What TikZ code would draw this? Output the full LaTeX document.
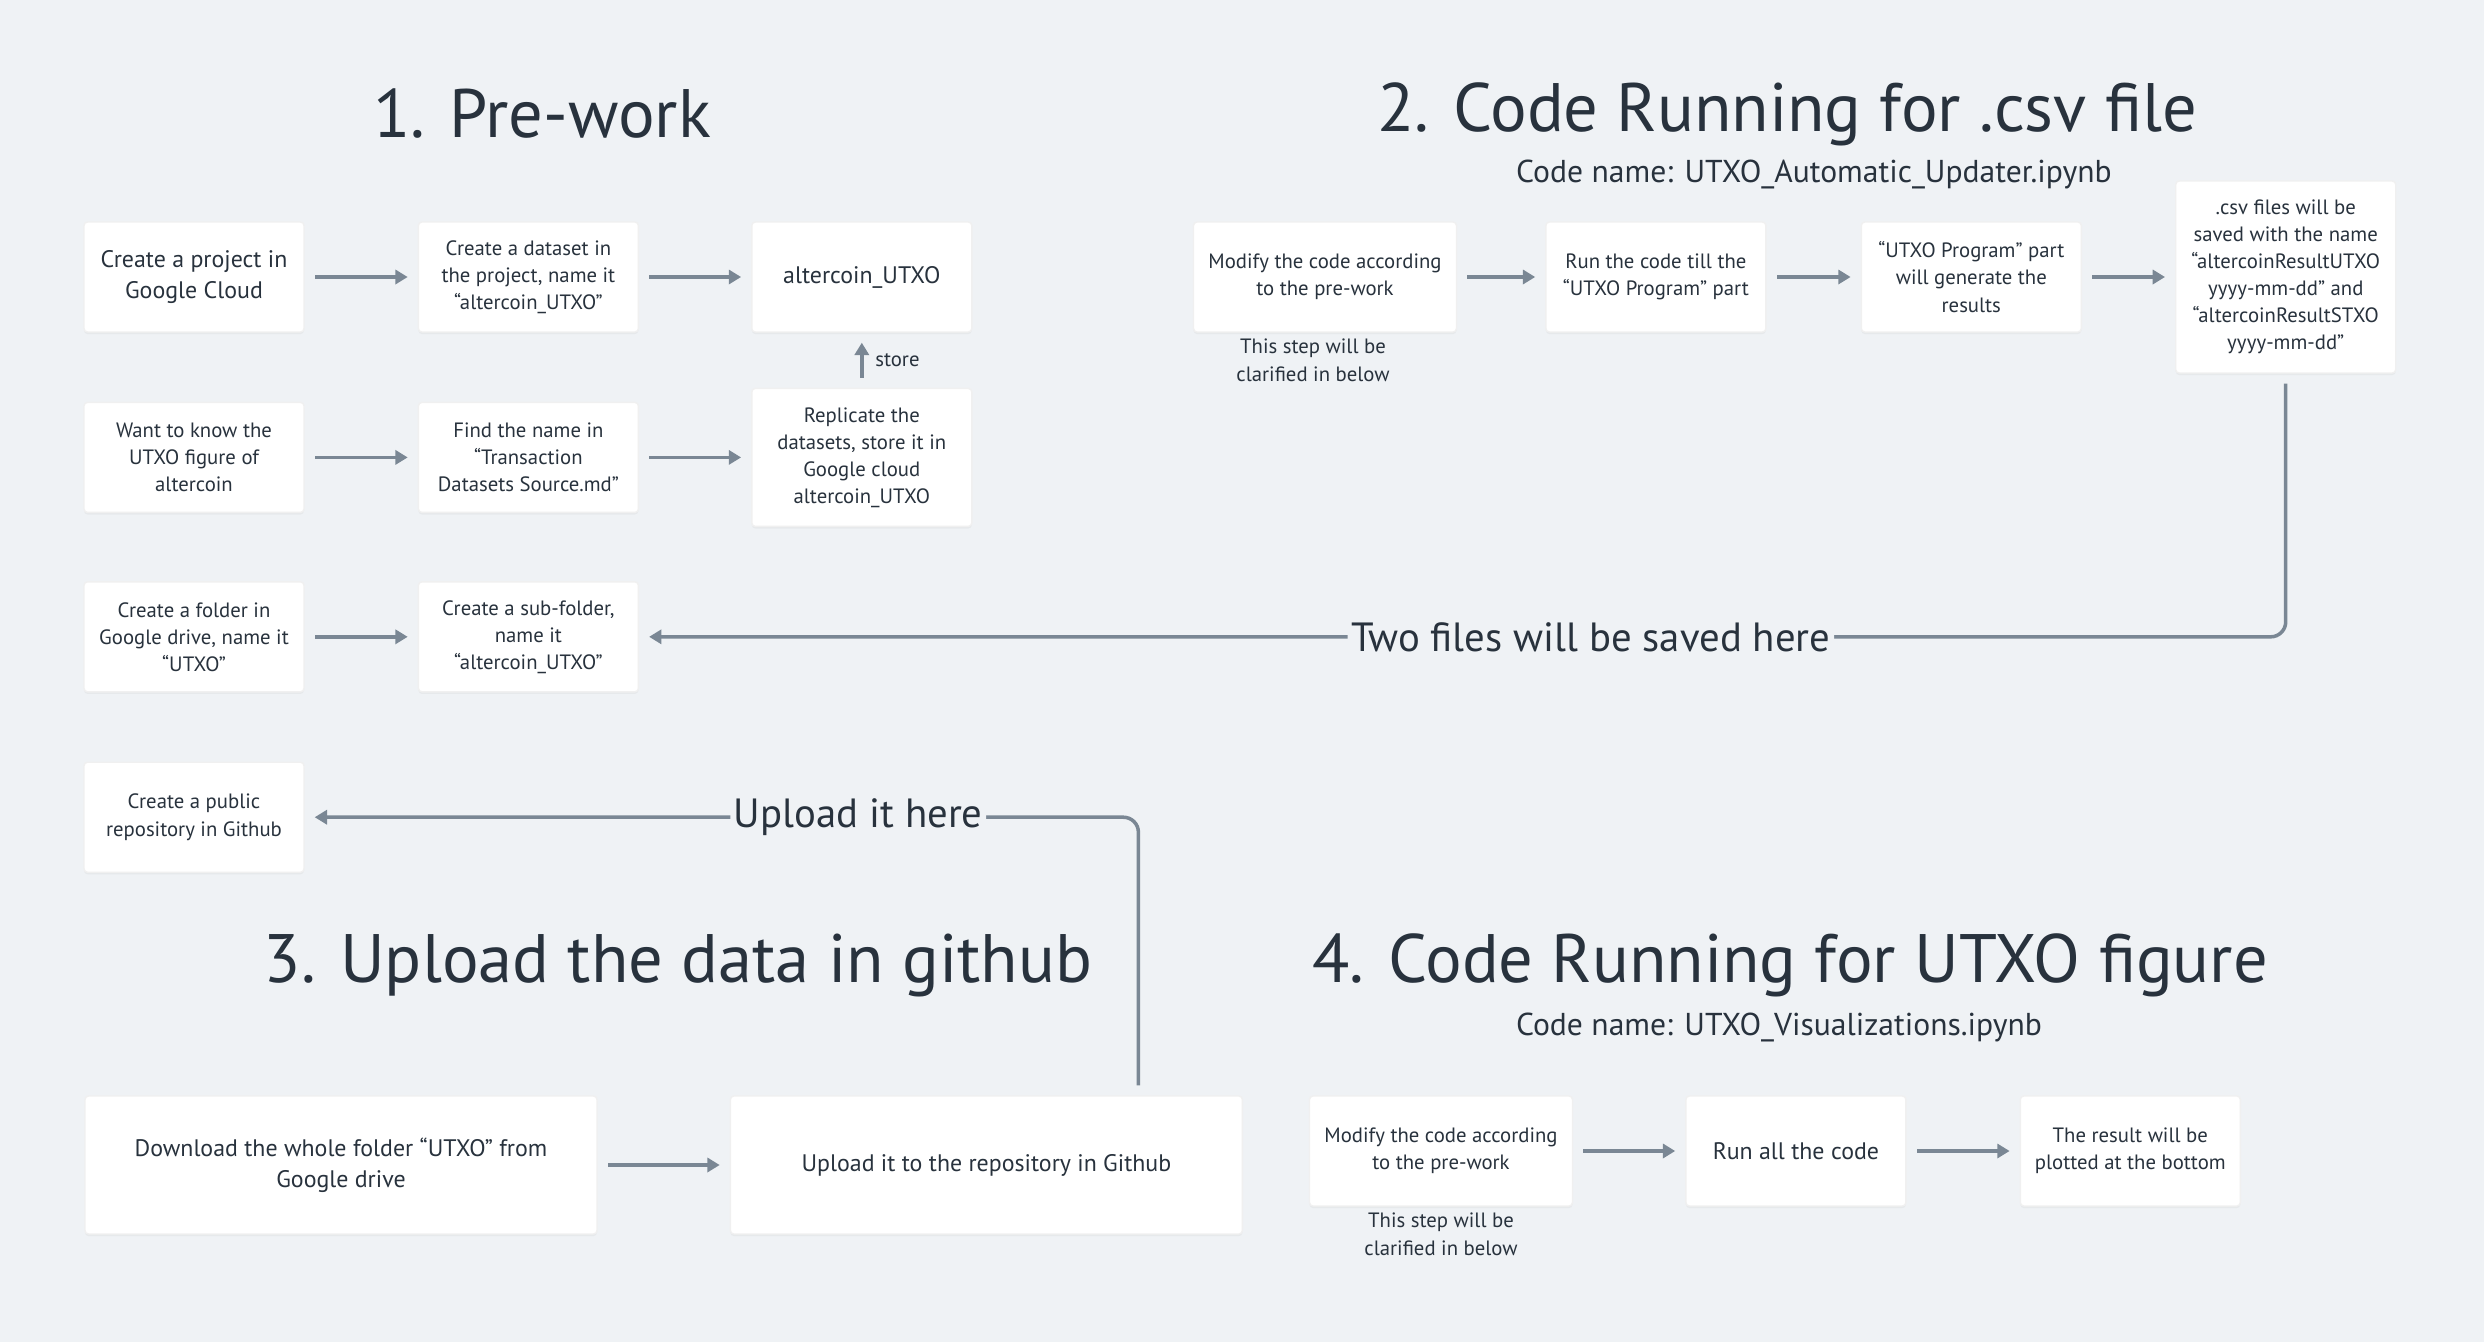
\documentclass[tikz,border=0pt]{standalone}
\usepackage{fontspec}
\setmainfont{PT Sans}
\usetikzlibrary{arrows.meta,positioning,shadows}
\definecolor{canvas}{HTML}{EFF2F5}
\definecolor{ink}{HTML}{28323D}
\definecolor{wire}{HTML}{7A8794}
\tikzstyle{task}=[
	rectangle,
	fill=white,
	draw=black!6,
	rounded corners=1pt,
	minimum width=2.2cm,
	minimum height=1.1cm,
	inner sep=0pt,
	align=center,
	text=ink,
	font=\fontsize{5.9}{7.7}\selectfont,
	drop shadow={shadow xshift=0pt, shadow yshift=-0.6pt, opacity=0.08}
]
\tikzstyle{bigtask}=[
	task,
	font=\fontsize{6.8}{8.8}\selectfont
]
\tikzstyle{note}=[
	align=center,
	text=ink,
	font=\fontsize{5.9}{7.9}\selectfont
]
\tikzstyle{heading}=[
	text=ink,
	font=\fontsize{19.5}{22}\selectfont
]
\tikzstyle{codename}=[
	text=ink,
	font=\fontsize{9}{11}\selectfont
]
\tikzstyle{flow}=[
	->,
	>={Triangle[length=3.5pt,width=4pt]},
	draw=wire,
	line width=1pt,
	shorten >=0.1cm,
	shorten <=0.1cm
]
\tikzstyle{return}=[
	flow,
	rounded corners=0.15cm
]
\tikzstyle{wirelabel}=[
	fill=canvas,
	text=ink,
	inner xsep=1pt,
	font=\fontsize{11.6}{13}\selectfont
]

\begin{document}
\begin{tikzpicture}
\path [use as bounding box, fill=canvas] (0,0) rectangle (24.84,-13.42);

% 1. pre-work
\node [heading] (T1) at (5.42,-1.14) {1. Pre-work};
\node [bigtask] (A1) at (1.94,-2.77) {Create a project in\\Google Cloud};
\node [task] (A2) [right=1.13cm of A1] {Create a dataset in\\the project, name it\\“altercoin\_UTXO”}
	edge [flow, <-] (A1);
\node [bigtask] (A3) [right=1.12cm of A2] {altercoin\_UTXO}
	edge [flow, <-] (A2);
\node [task] (B1) [below=0.69cm of A1] {Want to know the\\UTXO figure of\\altercoin};
\node [task] (B2) [right=1.13cm of B1] {Find the name in\\“Transaction\\Datasets Source.md”}
	edge [flow, <-] (B1);
\node [task, minimum height=1.38cm] (B3) [right=1.12cm of B2] {Replicate the\\datasets, store it in\\Google cloud\\altercoin\_UTXO}
	edge [flow, <-] (B2)
	edge [flow] node [note, right] {store} (A3);
\node [task] (C1) [below=0.68cm of B1] {Create a folder in\\Google drive, name it\\“UTXO”};
\node [task] (C2) [right=1.13cm of C1] {Create a sub-folder,\\name it\\“altercoin\_UTXO”}
	edge [flow, <-] (C1);
\node [task] (D1) [below=0.69cm of C1] {Create a public\\repository in Github};

% 2. code running for .csv file
\node [heading] (T2) at (17.87,-1.14) {2. Code Running for .csv file};
\node [codename] (N2) at (18.14,-1.74) {Code name: UTXO\_Automatic\_Updater.ipynb};
\node [task, minimum width=2.63cm] (E1) at (13.25,-2.77) {Modify the code according\\to the pre-work};
\node [note] (E1note) [below=-0.06cm of E1, xshift=-0.12cm] {This step will be\\clarified in below};
\node [task] (E2) [right=0.88cm of E1] {Run the code till the\\“UTXO Program” part}
	edge [flow, <-] (E1);
\node [task] (E3) [right=0.94cm of E2] {“UTXO Program” part\\will generate the\\results}
	edge [flow, <-] (E2);
\node [task, minimum height=1.92cm] (E4) [right=0.93cm of E3] {.csv files will be\\saved with the name\\“altercoinResultUTXO\\yyyy-mm-dd” and\\“altercoinResultSTXO\\yyyy-mm-dd”}
	edge [flow, <-] (E3);
\draw [return] (E4.south) |- (C2.east)
	node [wirelabel, pos=0.711] {Two files will be saved here};

% 3. upload the data in github
\node [heading] (T3) at (6.78,-9.65) {3. Upload the data in github};
\node [bigtask, minimum width=5.12cm, minimum height=1.38cm] (F1) at (3.41,-11.65) {Download the whole folder “UTXO” from\\Google drive};
\node [bigtask, minimum width=5.12cm, minimum height=1.38cm] (F2) [right=1.32cm of F1] {Upload it to the repository in Github}
	edge [flow, <-] (F1);
\coordinate (upload) at ([xshift=1.52cm]F2.north);
\draw [return] (upload) |- (D1.east)
	node [wirelabel, pos=0.668] {Upload it here};

% 4. code running for UTXO figure
\node [heading] (T4) at (17.90,-9.65) {4. Code Running for UTXO figure};
\node [codename] (N4) at (17.79,-10.27) {Code name: UTXO\_Visualizations.ipynb};
\node [task, minimum width=2.63cm] (G1) at (14.41,-11.51) {Modify the code according\\to the pre-work};
\node [note] (G1note) [below=-0.06cm of G1] {This step will be\\clarified in below};
\node [bigtask] (G2) [right=1.12cm of G1] {Run all the code}
	edge [flow, <-] (G1);
\node [task] (G3) [right=1.13cm of G2] {The result will be\\plotted at the bottom}
	edge [flow, <-] (G2);
\end{tikzpicture}
\end{document}
